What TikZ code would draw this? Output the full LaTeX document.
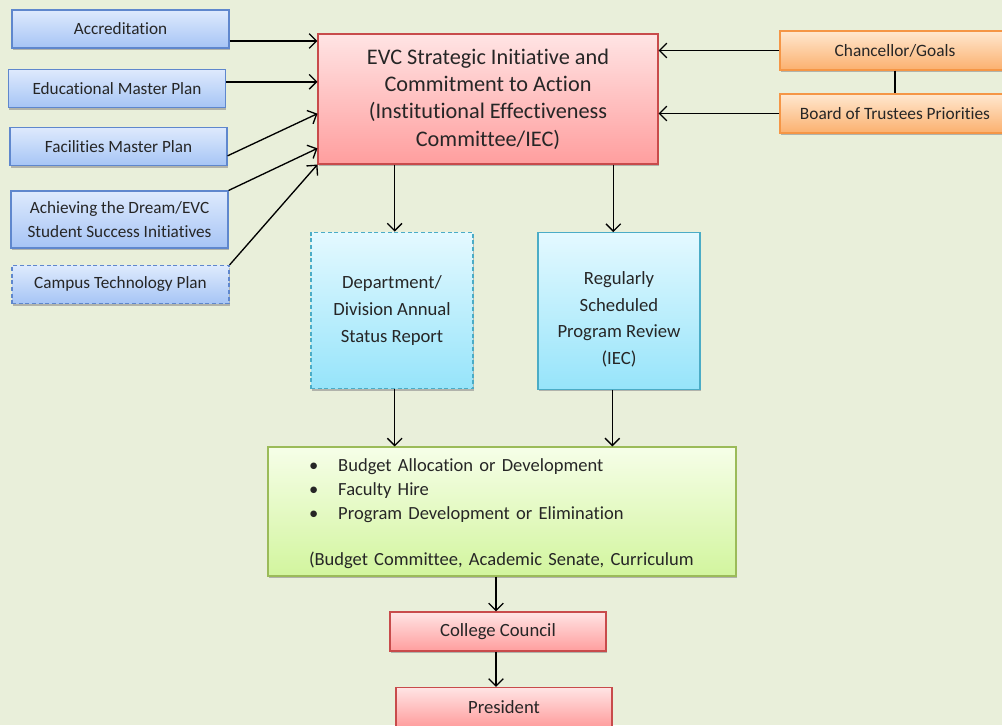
\documentclass[tikz,border=0pt]{standalone}
\usepackage{fontspec}
\setmainfont{Carlito}[Ligatures=NoCommon]
\usepackage{xcolor}
\usetikzlibrary{arrows.meta}
\usetikzlibrary{shadows}
\definecolor{bg}{RGB}{233,239,218}
\definecolor{blue_top}{RGB}{222,234,253}
\definecolor{blue_bot}{RGB}{166,196,245}
\definecolor{blue_line}{RGB}{95,135,205}
\definecolor{red_top}{RGB}{255,228,228}
\definecolor{red_bot}{RGB}{255,158,158}
\definecolor{red_line}{RGB}{200,75,75}
\definecolor{orange_top}{RGB}{255,232,208}
\definecolor{orange_bot}{RGB}{251,176,110}
\definecolor{orange_line}{RGB}{245,150,70}
\definecolor{cyan_top}{RGB}{228,249,255}
\definecolor{cyan_bot}{RGB}{150,228,250}
\definecolor{cyan_line}{RGB}{75,172,198}
\definecolor{green_top}{RGB}{246,254,232}
\definecolor{green_bot}{RGB}{210,245,158}
\definecolor{green_line}{RGB}{155,187,89}
\tikzset{
    box/.style = {rectangle, align=center, inner sep=2pt, text=black!85, line width=0.8pt,
                  drop shadow={shadow xshift=0.5pt, shadow yshift=-1.5pt, fill=black!45, opacity=0.6}},
    blue_box/.style = {box, draw=blue_line, top color=blue_top, bottom color=blue_bot,
                       minimum width=162.75pt, minimum height=28.5pt, font=\fontsize{12.9}{18}\selectfont},
    red_box/.style = {box, draw=red_line, top color=red_top, bottom color=red_bot,
                      minimum width=162pt, minimum height=29.25pt, font=\fontsize{14}{18}\selectfont},
    orange_box/.style = {box, draw=orange_line, top color=orange_top, bottom color=orange_bot,
                         minimum width=172.5pt, minimum height=29.25pt, font=\fontsize{13}{18}\selectfont},
    cyan_box/.style = {box, draw=cyan_line, top color=cyan_top, bottom color=cyan_bot,
                       minimum width=121.5pt, minimum height=117.5pt, font=\fontsize{14}{20}\selectfont},
    green_box/.style = {box, draw=green_line, top color=green_top, bottom color=green_bot,
                        minimum width=351pt, minimum height=96.75pt, text width=289.5pt, align=left,
                        font=\fontsize{13.9}{18}\selectfont},
    dashed_line/.style = {dashed, dash pattern=on 3pt off 2pt}
}
\begin{document}
\begin{tikzpicture}[x=0.75pt, y=-0.75pt, >={Straight Barb[length=5.5pt, width=11pt]}, line width=1pt]
    \fill[bg] (0,0) rectangle (1002,725);
    \useasboundingbox (0,0) rectangle (1002,725);

    % inputs on the left
    \node [blue_box] (accred) at (120.5,29) {Accreditation};
    \node [blue_box] (edu) at (117,88.5) {Educational Master Plan};
    \node [blue_box] (facil) at (118.5,146.5) {Facilities Master Plan};
    \node [blue_box, minimum height=42.75pt] (dream) at (119.5,219.5) {Achieving the Dream/EVC\\Student Success Initiatives};
    \node [blue_box, dashed_line] (tech) at (120.5,284.5) {Campus Technology Plan};

    % main box
    \node [red_box, minimum width=255pt, minimum height=97.5pt, font=\fontsize{16.7}{20.5}\selectfont] (evc) at (488,99)
        {EVC Strategic Initiative and\\Commitment to Action\\(Institutional Effectiveness\\Committee/IEC)};

    % inputs on the right
    \node [orange_box] (chanc) at (895,50.5) {Chancellor/Goals};
    \node [orange_box] (board) at (895,113.5) {Board of Trustees Priorities};

    % reviews
    \node [cyan_box, dashed_line] (dept) at (392,310.5) {Department/\\Division Annual\\Status Report};
    \node [cyan_box] (review) at (619,311) {\mbox{}\\[2pt]Regularly\\Scheduled\\Program Review\\(IEC)};

    % decisions
    \node [green_box] (actions) at (502,511.5) {%
        \begin{tabular}{@{}l@{\hspace{15pt}}l@{}}
            \textbullet & Budget Allocation or Development\\
            \textbullet & Faculty Hire\\
            \textbullet & Program Development or Elimination
        \end{tabular}\\[17.5pt]
        (Budget Committee, Academic Senate, Curriculum};

    \node [red_box] (council) at (498,631.5) {College Council};
    \node [red_box] (pres) at (504,707) {President};

    % connectors
    \draw [->] ([yshift=-9pt]accred.east) -- ([yshift=-9pt]accred.east -| evc.west);
    \draw [->] ([yshift=5pt]edu.east) -- ([yshift=5pt]edu.east -| evc.west);
    \draw [->] ([yshift=-7pt]facil.east) -- ([yshift=-11pt]evc.west);
    \draw [->] (dream.north east) -- ([yshift=-37pt]evc.west);
    \draw [->] (tech.north east) -- (evc.south west);
    \draw [->] (chanc.west) -- (chanc.west -| evc.east);
    \draw [->] (board.west) -- (board.west -| evc.east);
    \draw (chanc.south) -- (board.north);
    \draw [->] ([xshift=-70pt]evc.south) -- ([xshift=-70pt]evc.south |- dept.north);
    \draw [->] ([xshift=94pt]evc.south) -- ([xshift=94pt]evc.south |- review.north);
    \draw [->] ([xshift=2pt]dept.south) -- ([xshift=2pt]dept.south |- actions.north);
    \draw [->] ([xshift=-5pt]review.south) -- ([xshift=-5pt]review.south |- actions.north);
    \draw [->] ([xshift=-1.5pt]actions.south -| council.north) -- ([xshift=-1.5pt]council.north);
    \draw [->] ([xshift=-1.5pt]council.south) -- ([xshift=-1.5pt]council.south |- pres.north);
\end{tikzpicture}
\end{document}
